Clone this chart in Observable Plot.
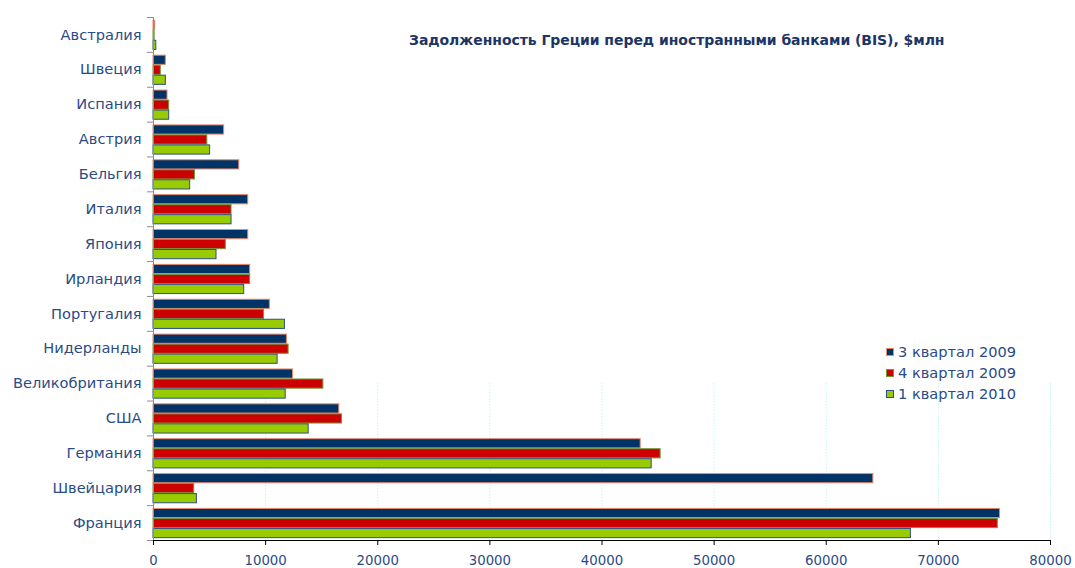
<!DOCTYPE html>
<html>
<head>
<meta charset="utf-8">
<script src="https://cdn.jsdelivr.net/npm/d3@7"></script>
<script src="https://cdn.jsdelivr.net/npm/@observablehq/plot@0.6"></script>
<style>
  html, body { margin: 0; padding: 0; background: #fff; }
  #wrap { position: relative; width: 1075px; height: 568px; font-family: "DejaVu Sans", sans-serif; }
  #title { position: absolute; left: 409px; top: 32px; font-weight: bold; font-size: 14px; color: #1c3566; white-space: nowrap; letter-spacing: -0.05px; }
  #legend { position: absolute; left: 886px; top: 341px; font-size: 14.6px; color: #2a4b86; }
  #legend .item { display: flex; align-items: center; height: 21px; white-space: nowrap; }
  #legend .sw { width: 6px; height: 6px; border: 1px solid; margin-right: 4px; }
</style>
</head>
<body>
<div id="wrap">
  <div id="chart"></div>
  <div id="title"></div>
  <div id="legend"></div>
</div>
<script>
// ---- data ----
const titleText = "Задолженность Греции перед иностранными банками (BIS), $млн";
const countries = ["Австралия","Швеция","Испания","Австрия","Бельгия","Италия","Япония","Ирландия","Португалия","Нидерланды","Великобритания","США","Германия","Швейцария","Франция"];
const seriesNames = ["3 квартал 2009","4 квартал 2009","1 квартал 2010"];
const q3_2009 = [150, 1100, 1250, 6300, 7650, 8450, 8450, 8620, 10380, 11900, 12440, 16570, 43450, 64200, 75500];
const q4_2009 = [100, 650, 1400, 4800, 3700, 6960, 6450, 8620, 9850, 12050, 15150, 16810, 45230, 3630, 75300];
const q1_2010 = [250, 1100, 1400, 5050, 3270, 6960, 5620, 8090, 11720, 11070, 11790, 13840, 44430, 3870, 67550];
const xTicks = [0, 10000, 20000, 30000, 40000, 50000, 60000, 70000, 80000];
const gridTicks = [10000, 20000, 30000, 40000, 50000, 60000, 70000, 80000];

// ---- styles ----
const fills = ["#003366", "#cc0000", "#99cc00"];
const strokes = ["#e8896a", "#6f9a3a", "#2b4f86"];
const labelColor = "#2a4b86";

const W = 1075, H = 568, mT = 17, mB = 28, mL = 153, mR = 25;
const band = (H - mT - mB) / countries.length;

const seriesValues = [q3_2009, q4_2009, q1_2010];
const tables = seriesValues.map((vals, s) => countries.map((c, i) => ({country: c, value: vals[i], series: seriesNames[s]})));

const barH = 9.2;
const barMarks = tables.map((t, s) => Plot.barX(t, {
  x: "value", y: "country",
  fill: fills[s], stroke: strokes[s], strokeWidth: 1,
  insetTop: 3.3 + 10 * s,
  insetBottom: band - (3.3 + 10 * s) - barH
}));

const chart = Plot.plot({
  width: W, height: H,
  marginTop: mT, marginBottom: mB, marginLeft: mL, marginRight: mR,
  style: {fontFamily: "DejaVu Sans, sans-serif", fontSize: "13px", background: "white", overflow: "visible"},
  x: {domain: [0, 80000], ticks: xTicks, tickFormat: d => String(d), tickSize: 5, tickPadding: 10, line: true, label: null, color: "#8c8c8c"},
  y: {domain: countries, padding: 0, round: false, tickSize: 0, tickPadding: 12, label: null},
  marks: [
    Plot.ruleX(gridTicks, {stroke: "#c9f1f5", strokeDasharray: "1.5,1.5", insetTop: 366}),
    ...barMarks,
    Plot.ruleX([0], {stroke: "#8c8c8c"}),
    Plot.ruleY(countries, {y: d => d, x1: 0, x2: 0, insetLeft: -6, dy: -band / 2, stroke: "#8c8c8c"}),
    Plot.ruleY(countries.slice(-1), {y: d => d, x1: 0, x2: 0, insetLeft: -6, dy: band / 2, stroke: "#8c8c8c"})
  ]
});
document.getElementById("chart").appendChild(chart);

// text colours / sizes
const cset = new Set(countries);
d3.select(chart).selectAll("text").each(function() {
  const t = this.textContent;
  const sel = d3.select(this);
  sel.attr("fill", labelColor).style("fill", labelColor);
  if (cset.has(t)) sel.style("font-size", "14.6px");
  else sel.style("font-size", "13.3px");
});

document.getElementById("title").textContent = titleText;
const legend = d3.select("#legend");
seriesNames.forEach((n, s) => {
  const it = legend.append("div").attr("class", "item");
  it.append("div").attr("class", "sw").style("background", fills[s]).style("border-color", strokes[s]);
  it.append("span").text(n);
});
</script>
</body>
</html>
